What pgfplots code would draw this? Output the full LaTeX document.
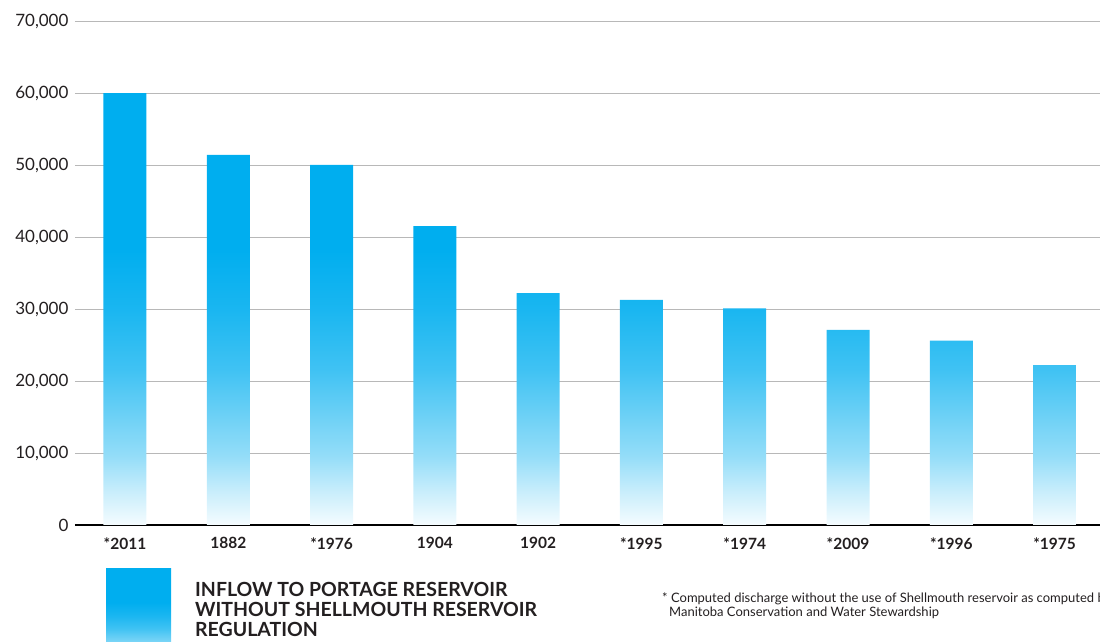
\documentclass[border=0pt]{standalone}
\usepackage{fontspec}
\setmainfont{Lato}
\usepackage{pgfplots}
\pgfplotsset{compat=1.18}
\definecolor{cb}{HTML}{00AEEF}
\definecolor{txt}{HTML}{231F20}
\pgfdeclareverticalshading{barshade}{100bp}{color(0bp)=(white); color(25bp)=(cb!4!white); color(29bp)=(cb!22!white); color(33bp)=(cb!42!white); color(43bp)=(cb!75!white); color(50bp)=(cb!90!white); color(57bp)=(cb); color(100bp)=(cb)}
\begin{document}
\begin{tikzpicture}[x=1pt,y=1pt]
\begin{axis}[
  at={(75pt,117pt)}, anchor=south west,
  scale only axis, width=1025pt, height=504pt,
  xmin=-0.484, xmax=9.44, ymin=0, ymax=70000,
  axis lines*=left,
  y axis line style={draw=none},
  x axis line style={draw=black, line width=1.6pt},
  major tick length=0pt,
  scaled y ticks=false,
  ytick={0,10000,20000,30000,40000,50000,60000,70000},
  ymajorgrids, grid style={draw=black!28, line width=0.9pt},
  xtick={0,1,2,3,4,5,6,7,8,9},
  xticklabels={*2011,1882,*1976,1904,1902,*1995,*1974,*2009,*1996,*1975},
  yticklabel style={font=\fontsize{17}{17}\selectfont, text=txt, xshift=-3pt},
  xticklabel style={font=\fontsize{15.5}{15.5}\selectfont\bfseries, text=txt, yshift=-9pt},
  /pgf/number format/.cd, 1000 sep={,}, assume math mode=true,
]
\addplot[ybar, bar width=43pt, draw=none, shading=barshade] coordinates {
(0,60000) (1,51400) (2,50000) (3,41500) (4,32200) (5,31250) (6,30100) (7,27100) (8,25600) (9,22200)};
\end{axis}
\shade[shading=barshade] (106pt,-20pt) rectangle (171pt,73pt);
\begin{scope}[every node/.style={anchor=base west, inner sep=0pt, text=txt, font=\fontsize{19.5}{20}\selectfont\bfseries}]
\node at (195pt,45pt) {INFLOW TO PORTAGE RESERVOIR};
\node at (195pt,25pt) {WITHOUT SHELLMOUTH RESERVOIR};
\node at (195pt,5pt) {REGULATION};
\end{scope}
\begin{scope}[every node/.style={anchor=base west, inner sep=0pt, text=txt, font=\fontsize{13}{14}\selectfont}]
\node at (662pt,39pt) {* Computed discharge without the use of Shellmouth reservoir as computed by};
\node at (669pt,25pt) {Manitoba Conservation and Water Stewardship};
\end{scope}
\pgfresetboundingbox
\path[use as bounding box] (0,0) rectangle (1100pt,642pt);
\end{tikzpicture}
\end{document}
